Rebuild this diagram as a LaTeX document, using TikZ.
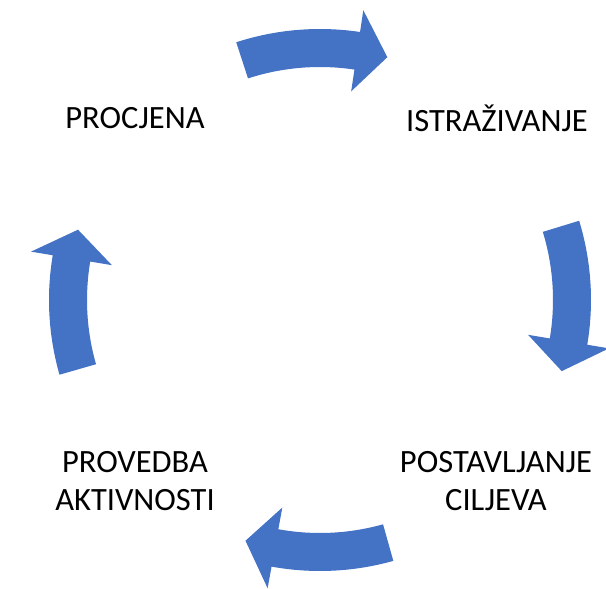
\documentclass[tikz,border=0pt]{standalone}
\usepackage{fontspec}
\setmainfont{Carlito}
\usetikzlibrary{calc}
\definecolor{arrowblue}{HTML}{4472C4}
% #1 tail angle, #2 head base angle, #3 tip angle (image clockwise)
\newcommand\cycarrow[3]{%
  \path[cyclearrow] ($(C)+(#1:271)$) arc[start angle=#1,end angle=#2,radius=271]
    -- ($(C)+(#2:293)$) -- ($(C)+(#3:252)$) -- ($(C)+(#2:211)$)
    -- ($(C)+(#2:233)$) arc[start angle=#2,end angle=#1,radius=233] -- cycle;}
\begin{document}
\begin{tikzpicture}[x=1pt,y=-1pt,
  cyclearrow/.style={fill=arrowblue,draw=none},
  label/.style={font=\fontsize{32.5}{38}\selectfont,align=center,text=black,inner sep=0pt}]
\useasboundingbox (0,0) rectangle (606,589);
\coordinate (C) at (320,300);
\cycarrow{-108}{-81.5}{-74.5}
\cycarrow{-17}{9.5}{16.4}
\cycarrow{74.3}{100.3}{107.2}
\cycarrow{164}{189.5}{196.2}
% labels
\node[label] (procjena) at (135,118) {PROCJENA};
\node[label] (istr) at (497,118) {ISTRAŽIVANJE};
\node[label] (post) at (496,481) {POSTAVLJANJE\\CILJEVA};
\node[label] (prov) at (135,481) {PROVEDBA\\AKTIVNOSTI};
\end{tikzpicture}
\end{document}
